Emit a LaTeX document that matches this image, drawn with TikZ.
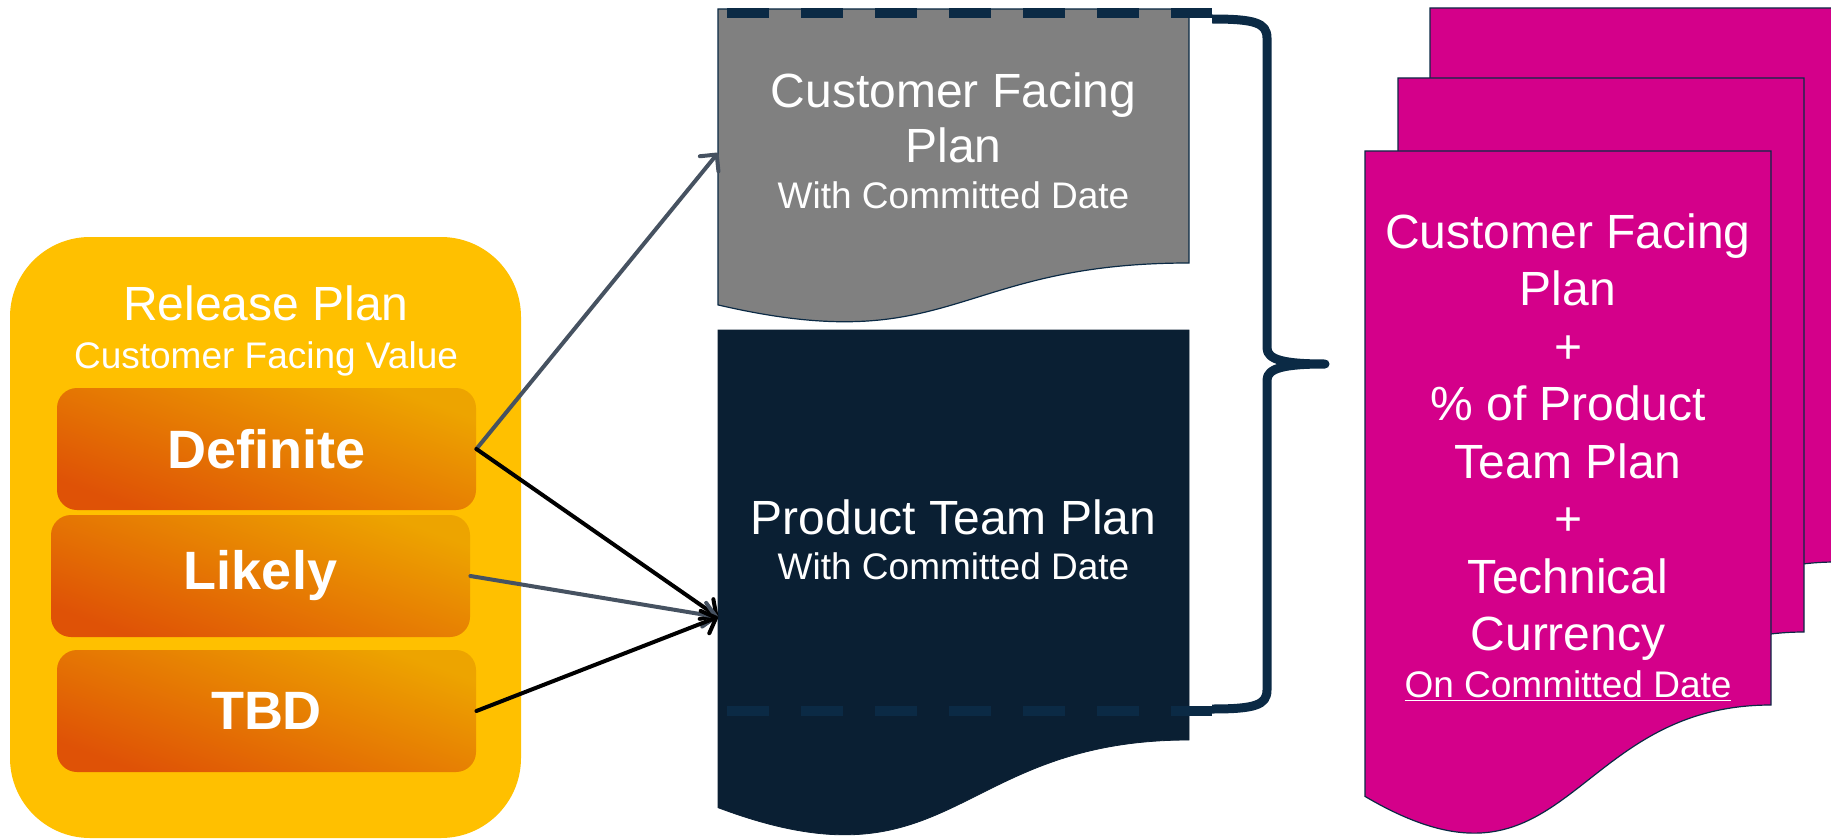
\documentclass[tikz,border=0pt]{standalone}
\usepackage{fontspec}
\setmainfont{Liberation Sans}
\usetikzlibrary{arrows.meta}
\definecolor{relyellow}{HTML}{FFC000}
\definecolor{boxlight}{HTML}{EDA400}
\definecolor{boxdark}{HTML}{DF5206}
\definecolor{plangray}{HTML}{808080}
\definecolor{navy}{HTML}{0A1F33}
\definecolor{bracenavy}{HTML}{0B2A45}
\definecolor{docmagenta}{HTML}{D4008A}
\definecolor{slate}{HTML}{465261}
\newcommand{\docshape}[5]{%
  \filldraw[#1] (#2,#3) -- (#2+#4,#3) -- (#2+#4,#3+#5)
    .. controls (#2+#4/2,#3+#5) and (#2+#4/2,#3+1.381*#5) .. (#2,#3+1.165*#5) -- cycle;}
\begin{document}
\begin{tikzpicture}[x=0.5pt,y=-0.5pt,
  relbox/.style={fill=relyellow,rounded corners=40pt,minimum width=255.5pt,minimum height=300.5pt},
  levelbox/.style={top color=boxlight,bottom color=boxdark,shading angle=-20,rounded corners=10pt,
    minimum width=209.5pt,minimum height=61pt,text=white,font=\fontsize{27}{32}\selectfont\bfseries},
  doctext/.style={text=white,align=center,inner sep=0pt,font=\fontsize{24}{27.5}\selectfont},
  datetext/.style={text=white,inner sep=0pt,font=\fontsize{18.5}{22}\selectfont},
  docline/.style={draw=bracenavy,line width=0.6pt},
  dashline/.style={bracenavy,line width=5pt,dash pattern=on 20.75pt off 16.25pt},
  feed/.style={line width=2pt,line cap=round,-{Straight Barb[length=6pt,width=12pt,round]}},
  bracket/.style={bracenavy,line width=4.5pt,line join=round}]
 \useasboundingbox (0,0) rectangle (1831,840);
 \node[relbox] (release) at (265.5,537.5) {};
 \node[datetext,font=\fontsize{24}{28}\selectfont,anchor=base] (reltitle) at (266,320) {Release Plan};
 \node[datetext,anchor=base] (relsub) at (266,368) {Customer Facing Value};
 \node[levelbox] (definite) at (266.5,449) {Definite};
 \node[levelbox] (likely) at (260.5,576) {Likely};
 \node[levelbox] (tbd) at (266.5,711) {TBD};
 \docshape{fill=plangray,docline}{718}{9}{471}{254}
 \docshape{fill=navy,draw=navy}{718}{330}{471}{410}
 \docshape{fill=docmagenta,docline}{1430}{8}{406}{554}
 \docshape{fill=docmagenta,docline}{1398}{78}{406}{554}
 \docshape{fill=docmagenta,docline}{1365}{151}{406}{554}
 \draw[dashline] (727,13) -- (1212,13);
 \draw[dashline] (727,711) -- (1212,711);
 \draw[bracket] (1212,19) .. controls (1255,19) and (1267,23) .. (1267,38) -- (1267,348)
   .. controls (1267,360) and (1285,364) .. (1325,364)
   .. controls (1285,364) and (1267,368) .. (1267,380) -- (1267,690)
   .. controls (1267,705) and (1255,709) .. (1212,709);
 \node[doctext,anchor=north] (cfptitle) at (953.5,72) {Customer Facing\\Plan};
 \node[datetext,anchor=base] (cfpdate) at (953.5,208) {With Committed Date};
 \node[doctext,anchor=north] (ptptitle) at (953.5,499) {Product Team Plan};
 \node[datetext,anchor=base] (ptpdate) at (953.5,579) {With Committed Date};
 \node[doctext,anchor=north,font=\fontsize{24}{28.75}\selectfont] (totaltitle) at (1568,213)
   {Customer Facing\\Plan\\+\\\% of Product\\Team Plan\\+\\Technical\\Currency};
 \node[datetext,anchor=base] (totaldate) at (1568,697) {\underline{On Committed Date}};
 \coordinate (cfpin) at (718,153);
 \coordinate (ptpin) at (718,617);
 \draw[feed,slate] (definite.east) -- (cfpin);
 \draw[feed,black] (definite.east) -- (ptpin);
 \draw[feed,slate] (likely.east) -- (ptpin);
 \draw[feed,black] (tbd.east) -- (ptpin);
\end{tikzpicture}
\end{document}
